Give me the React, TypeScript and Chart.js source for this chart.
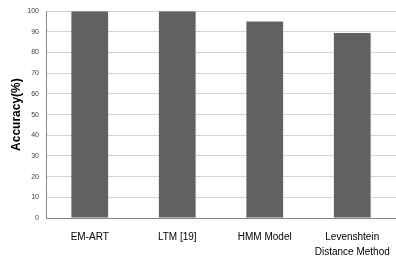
import React, { useEffect, useRef } from "react";
import { Chart, registerables } from "chart.js";

Chart.register(...registerables);

const categories: (string | string[])[] = ["EM-ART", "LTM [19]", "HMM Model", ["Levenshtein", "Distance Method"]];
const accuracy = [100, 100, 95, 89.5];
const yTicks = { min: 0, max: 100, step: 10 };

export default function App() {
  const ref = useRef<HTMLCanvasElement>(null);
  useEffect(() => {
    if (!ref.current) return;
    const chart = new Chart(ref.current, {
      type: "bar",
      data: {
        labels: categories,
        datasets: [
          {
            data: accuracy,
            backgroundColor: "#616161",
            borderWidth: 0,
            barPercentage: 0.42,
            categoryPercentage: 1,
          },
        ],
      },
      options: {
        animation: false,
        responsive: false,
        maintainAspectRatio: false,
        layout: { padding: { top: 7, right: 0, left: 0, bottom: 0 } },
        plugins: { legend: { display: false }, tooltip: { enabled: false } },
        scales: {
          x: {
            grid: { display: false, drawTicks: false },
            border: { color: "#868686", width: 1 },
            ticks: {
              color: "#000",
              font: { family: "Liberation Sans", size: 10, lineHeight: 1.5 },
              padding: 12,
              maxRotation: 0,
              autoSkip: false,
            },
            afterFit: (scale: any) => {
              scale.height = 41;
              scale.paddingLeft = 0;
              scale.paddingRight = 0;
            },
          },
          y: {
            min: yTicks.min,
            max: yTicks.max,
            grid: { color: "#d4d4d4", drawTicks: false },
            border: { color: "#868686", width: 1 },
            ticks: {
              stepSize: yTicks.step,
              color: "#404040",
              font: { family: "Liberation Sans", size: 7 },
              padding: 7,
            },
            title: {
              display: true,
              text: "Accuracy(%)",
              color: "#000",
              font: { family: "Liberation Sans", size: 12, weight: "bold" },
              padding: { top: 9, bottom: 0 },
            },
            afterFit: (scale: any) => {
              scale.width = 46;
            },
          },
        },
      },
    });
    return () => chart.destroy();
  }, []);
  return (
    <div style={{ position: "fixed", left: 0, top: 0, width: 396, height: 259, background: "#fff" }}>
      <canvas ref={ref} width={396} height={259} />
    </div>
  );
}
